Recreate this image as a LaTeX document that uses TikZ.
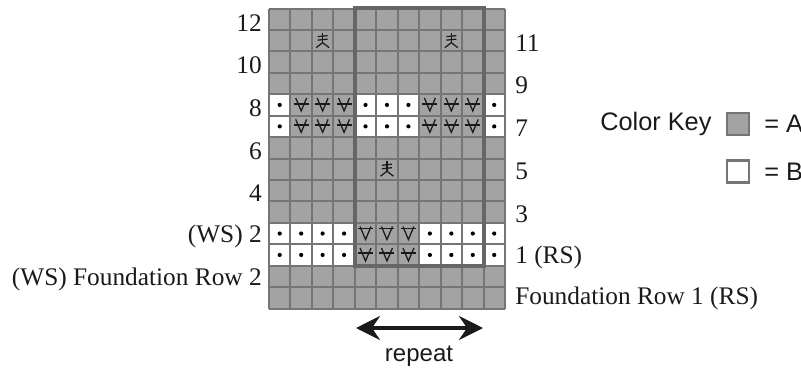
\documentclass[tikz,border=0pt]{standalone}
\usepackage{fontspec}
\setmainfont{Liberation Serif}
\newfontfamily\keyfont{Liberation Sans}
\usetikzlibrary{arrows.meta}
\definecolor{cellA}{HTML}{A3A3A3}
\definecolor{gridline}{HTML}{757575}
\definecolor{repline}{HTML}{666666}
\definecolor{inkk}{HTML}{1A1A1A}
\tikzset{
  gridstroke/.style={draw=gridline,line width=1.5pt},
  repeatbox/.style={draw=repline,line width=3pt},
  sym/.style={draw=inkk,line width=0.95pt},
  rowl/.style={font=\fontsize{19}{19}\selectfont,text=inkk,anchor=east,inner sep=0pt},
  rowr/.style={font=\fontsize{19}{19}\selectfont,text=inkk,anchor=west,inner sep=0pt},
  keytext/.style={font=\keyfont\fontsize{19}{19}\selectfont,text=inkk,anchor=west,inner sep=0pt},
  keybox/.style={draw=gridline,line width=1.8pt,minimum size=16.5pt,inner sep=0pt}
}
\newcommand{\cw}{21.45}
\newcommand{\ch}{21.43}
\newcommand{\gx}{269}
\newcommand{\gy}{8.5}
% column, row
\newcommand{\whitedot}[2]{%
  \fill[white] ({\gx+#1*\cw},{\gy+#2*\ch}) rectangle ++(\cw,\ch);
  \fill[black] ({\gx+(#1+.5)*\cw},{\gy+(#2+.5)*\ch}) circle (2.1);}
% column, row, y offset of bar
\newcommand{\vsym}[3]{%
  \begin{scope}[shift={({\gx+(#1+.5)*\cw},{\gy+(#2+.5)*\ch})}]
    \draw[sym] (-5.5,-7) -- (0,6) -- (5.5,-7);
    \draw[sym] (-7.5,#3) -- (7.5,#3);
  \end{scope}}
\newcommand{\fsym}[2]{%
  \begin{scope}[shift={({\gx+(#1+.5)*\cw},{\gy+(#2+.5)*\ch})}]
    \draw[sym] (0,-8) -- (0,2);
    \draw[sym] (-5,-4) -- (5,-5);
    \draw[sym] (-5,-.5) -- (5,-1.5);
    \draw[sym] (-6.5,7) -- (0,2) -- (6.5,7);
  \end{scope}}
\begin{document}
\begin{tikzpicture}[x=0.75pt,y=-0.75pt]
\useasboundingbox (0,0) rectangle (801,369);
% base
\fill[cellA] (\gx,\gy) rectangle ({\gx+11*\cw},{\gy+14*\ch});
\foreach \r in {4,5}{
  \foreach \c in {0,4,5,6,10}{\whitedot{\c}{\r}}
}
\foreach \r in {10,11}{
  \foreach \c in {0,1,2,3,7,8,9,10}{\whitedot{\c}{\r}}
}
% grid
\foreach \c in {0,...,11}{
  \draw[gridstroke] ({\gx+\c*\cw},\gy) -- ({\gx+\c*\cw},{\gy+14*\ch});
}
\foreach \r in {0,...,14}{
  \draw[gridstroke] (\gx,{\gy+\r*\ch}) -- ({\gx+11*\cw},{\gy+\r*\ch});
}
% symbols
\foreach \c in {1,2,3,7,8,9}{\vsym{\c}{4}{-1}\vsym{\c}{5}{-1.5}}
\foreach \c in {4,5,6}{\vsym{\c}{10}{-5}\vsym{\c}{11}{-2}}
\fsym{2}{1}\fsym{8}{1}\fsym{5}{7}
% repeat box
\draw[repeatbox] ({\gx+4*\cw},7.5) rectangle ({\gx+10*\cw},{\gy+12*\ch});
% row labels
\node[rowl] (l12) at (262,23) {12};
\node[rowl] (l10) at (262,65) {10};
\node[rowl] (l8) at (262,108) {8};
\node[rowl] (l6) at (262,151) {6};
\node[rowl] (l4) at (262,193) {4};
\node[rowl] (l2) at (262,236) {(WS) 2};
\node[rowl] (lf2) at (262,279) {(WS) Foundation Row 2};
\node[rowr] (r11) at (515,43) {11};
\node[rowr] (r9) at (515,85) {9};
\node[rowr] (r7) at (515,128) {7};
\node[rowr] (r5) at (515,171) {5};
\node[rowr] (r3) at (515,214) {3};
\node[rowr] (r1) at (515,257) {1 (RS)};
\node[rowr] (rf1) at (515,298) {Foundation Row 1 (RS)};
% repeat arrow
\coordinate (al) at (356,328);
\coordinate (ar) at (483,328);
\draw[line width=2.7pt,draw=inkk,{Stealth[length=18pt,width=18pt,inset=6pt]}-{Stealth[length=18pt,width=18pt,inset=6pt]}] (al) -- (ar);
\node[font=\keyfont\fontsize{18}{18}\selectfont,text=inkk,inner sep=0pt] (rep) at (419,356) {repeat};
% key
\node[keytext] (ck) at (600,124) {Color Key};
\node[keybox,fill=cellA] (ka) at (738,124) {};
\node[keytext] (ta) at (764,124) {= A};
\node[keybox,fill=white] (kb) at (738,171.5) {};
\node[keytext] (tb) at (764,172) {= B};
\end{tikzpicture}
\end{document}
